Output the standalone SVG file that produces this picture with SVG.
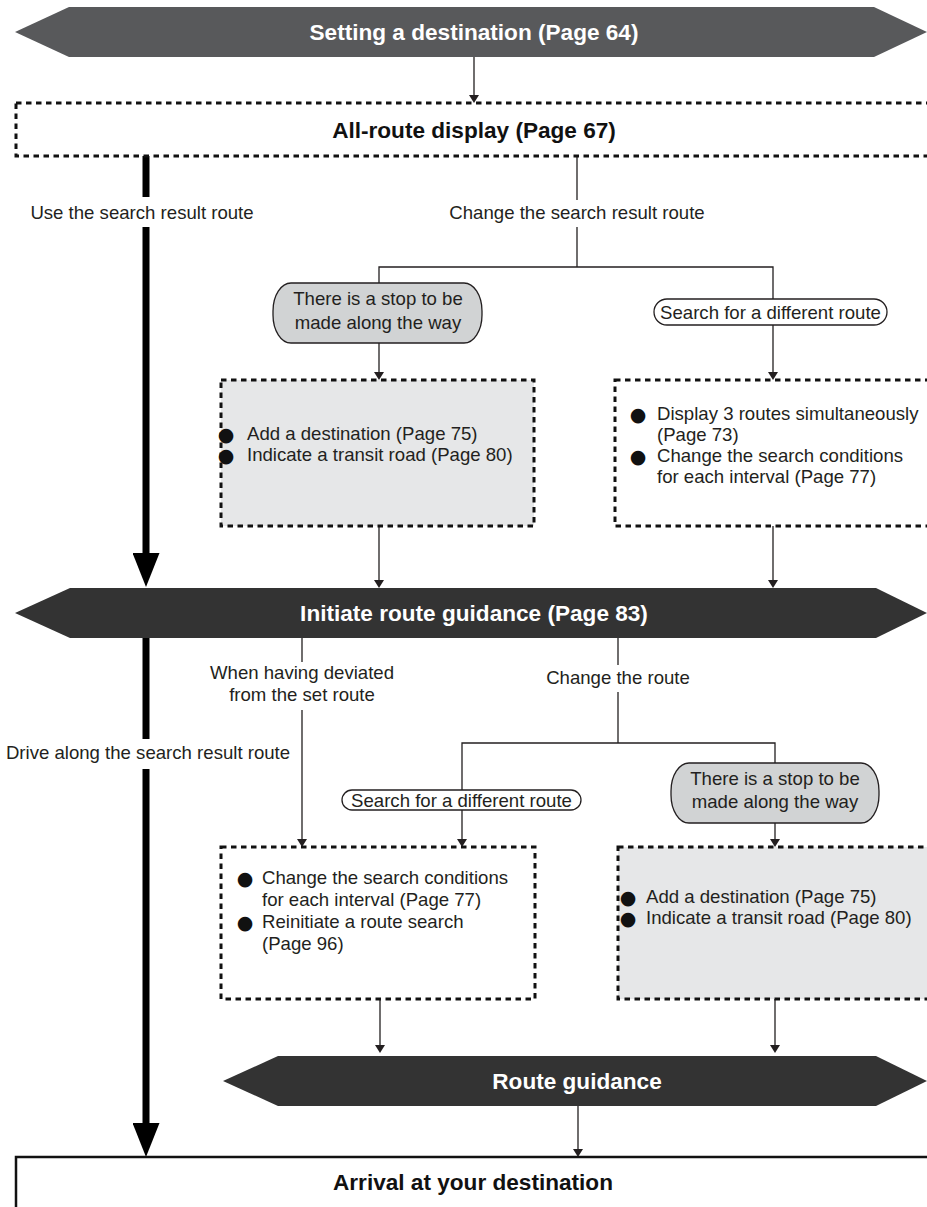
<svg xmlns="http://www.w3.org/2000/svg" width="927" height="1207" viewBox="0 0 927 1207">
<defs>
<marker id="ah" viewBox="0 0 8 10" refX="0" refY="5" markerWidth="8" markerHeight="10" markerUnits="userSpaceOnUse" orient="auto"><path d="M0,0 L8,5 L0,10 z" fill="#231f20"/></marker>
<marker id="big" viewBox="0 0 34 27" refX="0" refY="13.5" markerWidth="34" markerHeight="27" markerUnits="userSpaceOnUse" orient="auto"><path d="M0,0 L34,13.5 L0,27 z" fill="#000"/></marker>
<style>
.banner1{fill:#58595b}
.banner{fill:#333333}
.ttl{font-family:"Liberation Sans",Arial,Helvetica,sans-serif;font-weight:bold;font-size:22.6px;text-anchor:middle}
.w{fill:#ffffff}
.k{fill:#111111}
.lbl{font-family:"Liberation Sans",Arial,Helvetica,sans-serif;font-size:18.6px;fill:#231f20}
.mid{text-anchor:middle}
.dot{stroke:#111111;stroke-width:3;stroke-dasharray:5.5 4.5}
.g1{fill:#e6e7e8}
.wh{fill:#ffffff}
.bub{stroke:#231f20;stroke-width:1.3}
.bgray{fill:#d1d3d4}
.ln{fill:none;stroke:#231f20;stroke-width:1.3}
.thick{fill:none;stroke:#000000;stroke-width:7}
.bul{font-family:"DejaVu Sans",sans-serif;font-size:19px;fill:#111111;text-anchor:middle}
.arr{fill:#ffffff;stroke:#111111;stroke-width:2.5}
</style>
</defs>
<rect x="0" y="0" width="927" height="1207" fill="#ffffff"/>

<g id="connectors">
<path class="ln" d="M474,57 V95" marker-end="url(#ah)"/>
<path class="thick" d="M146,156 V197"/>
<path class="thick" d="M146,227 V553" marker-end="url(#big)"/>
<path class="ln" d="M577,156 V200"/>
<path class="ln" d="M577,227 V267"/>
<path class="ln" d="M379,283 V267 H773 V299"/>
<path class="ln" d="M379,343 V372" marker-end="url(#ah)"/>
<path class="ln" d="M773,325 V372" marker-end="url(#ah)"/>
<path class="ln" d="M379,526 V580" marker-end="url(#ah)"/>
<path class="ln" d="M773,526 V580" marker-end="url(#ah)"/>
<path class="thick" d="M146,638 V739"/>
<path class="thick" d="M146,769 V1123" marker-end="url(#big)"/>
<path class="ln" d="M302,638 V662"/>
<path class="ln" d="M302,710 V839" marker-end="url(#ah)"/>
<path class="ln" d="M618,638 V665"/>
<path class="ln" d="M618,692 V743"/>
<path class="ln" d="M462,790 V743 H775 V763"/>
<path class="ln" d="M462,810 V839" marker-end="url(#ah)"/>
<path class="ln" d="M775,823 V839" marker-end="url(#ah)"/>
<path class="ln" d="M380,999 V1045" marker-end="url(#ah)"/>
<path class="ln" d="M775,999 V1045" marker-end="url(#ah)"/>
<path class="ln" d="M578,1106 V1149" marker-end="url(#ah)"/>
<text class="lbl mid" x="142" y="219">Use the search result route</text>
<text class="lbl mid" x="577" y="219">Change the search result route</text>
<text class="lbl mid" x="302" y="679">When having deviated</text>
<text class="lbl mid" x="302" y="701">from the set route</text>
<text class="lbl mid" x="618" y="684">Change the route</text>
<text class="lbl mid" x="148" y="759">Drive along the search result route</text>
</g>

<g id="setting-destination">
<polygon class="banner1" points="15,32 69,7 874,7 927,32 874,57 69,57"/>
<text class="ttl w" x="474" y="39.5">Setting a destination (Page 64)</text>
</g>

<g id="all-route-display">
<rect class="dot" x="16" y="103" width="930" height="53" fill="#ffffff"/>
<text class="ttl k" x="474" y="137.5">All-route display (Page 67)</text>
</g>

<g id="stop-along-way-1">
<rect class="bub bgray" x="273" y="283" width="209" height="60" rx="18" ry="28"/>
<text class="lbl mid" x="378" y="305">There is a stop to be</text>
<text class="lbl mid" x="378" y="329">made along the way</text>
</g>

<g id="different-route-1">
<rect class="bub wh" x="654" y="299" width="233" height="26" rx="13" ry="13"/>
<text class="lbl mid" x="770.5" y="318.5">Search for a different route</text>
</g>

<g id="box-add-destination-1">
<rect class="dot g1" x="221" y="380" width="313" height="146"/>
<text class="bul" x="226" y="441">●</text>
<text class="lbl" x="247" y="440">Add a destination (Page 75)</text>
<text class="bul" x="226" y="462">●</text>
<text class="lbl" x="247" y="461">Indicate a transit road (Page 80)</text>
</g>

<g id="box-display-routes">
<rect class="dot wh" x="615" y="380" width="330" height="146"/>
<text class="bul" x="638" y="420.5">●</text>
<text class="lbl" x="657" y="419.5">Display 3 routes simultaneously</text>
<text class="lbl" x="657" y="440.5">(Page 73)</text>
<text class="bul" x="638" y="462.5">●</text>
<text class="lbl" x="657" y="461.5">Change the search conditions</text>
<text class="lbl" x="657" y="482.5">for each interval (Page 77)</text>
</g>

<g id="initiate-guidance">
<polygon class="banner" points="15,613 70,588 876,588 927,613 876,638 70,638"/>
<text class="ttl w" x="474" y="620.5">Initiate route guidance (Page 83)</text>
</g>

<g id="different-route-2">
<rect class="bub wh" x="342" y="790" width="239" height="20" rx="10" ry="10"/>
<text class="lbl mid" x="461.5" y="806.5">Search for a different route</text>
</g>

<g id="stop-along-way-2">
<rect class="bub bgray" x="671" y="763" width="208" height="60" rx="18" ry="28"/>
<text class="lbl mid" x="775" y="785">There is a stop to be</text>
<text class="lbl mid" x="775" y="808">made along the way</text>
</g>

<g id="box-search-conditions">
<rect class="dot wh" x="221" y="847" width="314" height="152"/>
<text class="bul" x="245" y="885">●</text>
<text class="lbl" x="262" y="884">Change the search conditions</text>
<text class="lbl" x="262" y="906">for each interval (Page 77)</text>
<text class="bul" x="245" y="929">●</text>
<text class="lbl" x="262" y="928">Reinitiate a route search</text>
<text class="lbl" x="262" y="950">(Page 96)</text>
</g>

<g id="box-add-destination-2">
<rect class="dot g1" x="618" y="847" width="330" height="152"/>
<text class="bul" x="628" y="904">●</text>
<text class="lbl" x="646" y="903">Add a destination (Page 75)</text>
<text class="bul" x="628" y="925">●</text>
<text class="lbl" x="646" y="924">Indicate a transit road (Page 80)</text>
</g>

<g id="route-guidance">
<polygon class="banner" points="223,1081 278,1056 876,1056 927,1081 876,1106 278,1106"/>
<text class="ttl w" x="577" y="1088.5">Route guidance</text>
</g>

<g id="arrival">
<rect class="arr" x="16" y="1157" width="930" height="80"/>
<text class="ttl k" x="473" y="1190">Arrival at your destination</text>
</g>
</svg>
